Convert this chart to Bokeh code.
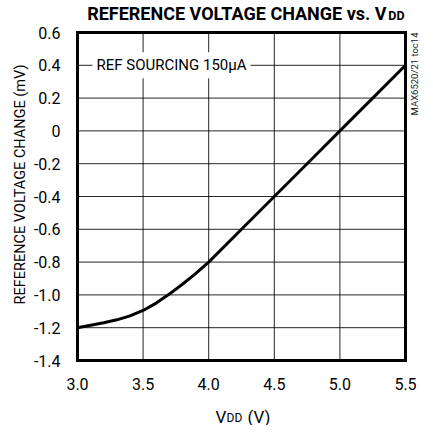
import math
from bokeh.plotting import figure
from bokeh.models import Range1d, Label
from bokeh.core.properties import value
from bokeh.embed import file_html
from bokeh.resources import INLINE

# ---- data ----
vdd = [3.0, 3.1, 3.2, 3.3, 3.4, 3.5, 3.6, 3.7, 3.8, 3.9, 4.0,
       4.25, 4.5, 4.75, 5.0, 5.25, 5.5]
ref_change = [-1.200, -1.185, -1.170, -1.152, -1.128, -1.095, -1.050, -0.995,
              -0.935, -0.870, -0.800, -0.600, -0.400, -0.200, 0.000, 0.200, 0.400]

x_ticks = [3.0, 3.5, 4.0, 4.5, 5.0, 5.5]
x_tick_labels = ["3.0", "3.5", "4.0", "4.5", "5.0", "5.5"]
y_ticks = [-1.4, -1.2, -1.0, -0.8, -0.6, -0.4, -0.2, 0.0, 0.2, 0.4, 0.6]
y_tick_labels = ["-1.4", "-1.2", "-1.0", "-0.8", "-0.6", "-0.4", "-0.2", "0",
                 "0.2", "0.4", "0.6"]

title_main = "REFERENCE VOLTAGE CHANGE vs. V"
title_sub = "DD"
y_label = "REFERENCE VOLTAGE CHANGE (mV)"
x_label_main = "V"
x_label_sub = "DD"
x_label_tail = "(V)"
note = "REF SOURCING 150\u00b5A"
side_note = "MAX6520/21 toc14"

# ---- layout (pixels on the canvas) ----
W, H = 420, 425
FX0, FX1 = 77, 405      # plot box left / right
FY0, FY1 = 32, 360      # plot box top / bottom
xmin, xmax = x_ticks[0], x_ticks[-1]
ymin, ymax = y_ticks[0], y_ticks[-1]
kx = (FX1 - FX0) / (xmax - xmin)
ky = (FY1 - FY0) / (ymax - ymin)
x_range = Range1d(xmin - FX0 / kx, xmax + (W - FX1) / kx)
y_range = Range1d(ymin - (H - FY1) / ky, ymax + FY0 / ky)

FONT = value("Roboto")

p = figure(width=W, height=H, output_backend="svg", toolbar_location=None,
           x_range=x_range, y_range=y_range,
           x_axis_location=None, y_axis_location=None,
           min_border=0, min_border_left=0, min_border_right=0,
           min_border_top=0, min_border_bottom=0)
p.title.visible = False
p.outline_line_color = None
p.grid.visible = False
p.background_fill_color = "white"
p.border_fill_color = "white"

# grid lines
gx = x_ticks[1:-1]
gy = y_ticks[1:-1]
p.segment(x0=gx, y0=[ymin] * len(gx), x1=gx, y1=[ymax] * len(gx),
          line_color="black", line_width=1, line_alpha=0.85)
p.segment(x0=[xmin] * len(gy), y0=gy, x1=[xmax] * len(gy), y1=gy,
          line_color="black", line_width=1, line_alpha=0.85)

# data curve
p.line(vdd, ref_change, line_color="black", line_width=3, line_join="round")

# plot box
p.quad(left=[xmin], right=[xmax], bottom=[ymin], top=[ymax],
       fill_color=None, line_color="black", line_width=3, line_join="miter")

# tick labels
p.text(x=x_ticks, y=[ymin] * len(x_ticks), text=x_tick_labels,
       text_font=FONT, text_font_size="16px", text_align="center",
       text_baseline="middle", y_offset=23, text_color="black")
p.text(x=[xmin] * len(y_ticks), y=y_ticks, text=y_tick_labels,
       text_font=FONT, text_font_size="16px", text_align="right",
       text_baseline="middle", x_offset=-17, text_color="black")

# y axis label (rotated)
ymid = (ymin + ymax) / 2
p.text(x=[xmin], y=[ymid], text=[y_label], text_font=FONT,
       text_font_size="14.5px", angle=math.pi / 2, text_align="center",
       text_baseline="middle", x_offset=-57, y_offset=-12, text_color="black")

# x axis label  V_DD (V)
xmid = (xmin + xmax) / 2
p.text(x=[xmid], y=[ymin], text=[x_label_main], text_font=FONT,
       text_font_size="17px", text_align="left", text_baseline="alphabetic",
       x_offset=-26, y_offset=56, text_color="black")
p.text(x=[xmid], y=[ymin], text=[x_label_sub], text_font=FONT,
       text_font_size="12px", text_align="left", text_baseline="alphabetic",
       x_offset=-15, y_offset=57, text_color="black")
p.text(x=[xmid], y=[ymin], text=[x_label_tail], text_font=FONT,
       text_font_size="17px", text_align="left", text_baseline="alphabetic",
       x_offset=6, y_offset=56, text_color="black")

# title  REFERENCE VOLTAGE CHANGE vs. V_DD
p.text(x=[xmax], y=[ymax], text=[title_main], text_font=FONT,
       text_font_size="18px", text_font_style="bold", text_align="right",
       text_baseline="alphabetic", x_offset=-19, y_offset=-19, text_color="black")
p.text(x=[xmax], y=[ymax], text=[title_sub], text_font=FONT,
       text_font_size="12.5px", text_font_style="bold", text_align="right",
       text_baseline="alphabetic", x_offset=-1, y_offset=-17, text_color="black")

# side note (rotated)
p.text(x=[xmax], y=[ymax], text=[side_note], text_font=FONT,
       text_font_size="9.5px", angle=math.pi / 2, text_align="right",
       text_baseline="middle", x_offset=9, y_offset=0, text_color="#222222")

# inset note with white box over the grid
p.add_layout(Label(x=xmin, y=0.4, x_offset=15, text=note, text_font="Roboto",
                   text_font_size="15px", text_baseline="middle",
                   text_color="black", background_fill_color="white",
                   border_line_color=None, padding=4))

open("out.html", "w").write(file_html(p, INLINE))
